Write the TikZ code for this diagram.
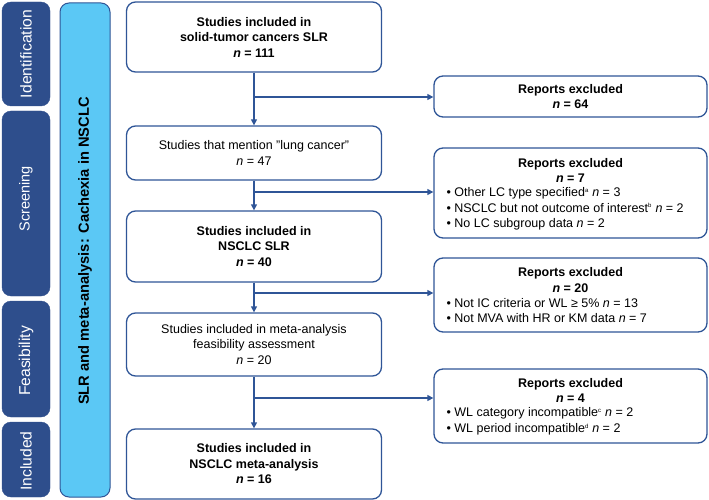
\documentclass[tikz,border=0pt]{standalone}
\usepackage{fontspec}
\setmainfont{Liberation Sans}
\usetikzlibrary{arrows.meta,positioning}
\definecolor{dkblue}{HTML}{2F5597}
\definecolor{phase}{HTML}{2E4E8C}
\definecolor{ltblue}{HTML}{5BC8F5}
\newcommand{\nn}{\textit{n}}
\newcommand{\sups}[1]{\textsuperscript{\fontsize{6}{6}\selectfont #1}}
\begin{document}
\begin{tikzpicture}[x=1pt,y=-1pt,
  every node/.style={font=\fontsize{12.5}{15.5}\selectfont},
  phasebox/.style={draw=phase,fill=phase,rounded corners=9pt,minimum width=48pt,inner sep=0pt},
  phaselabel/.style={rotate=90,text=white,font=\fontsize{15.7}{17}\selectfont},
  mainbox/.style={draw=dkblue,line width=1.3pt,rounded corners=9pt,minimum width=255pt,align=center,fill=white},
  exbox/.style={draw=dkblue,line width=1.3pt,rounded corners=9pt,minimum width=273pt,fill=white},
  conn/.style={draw=dkblue,line width=1.3pt},
  arr/.style={conn,-{Triangle[length=6pt,width=6pt]}}
]
\useasboundingbox (0,0) rectangle (709,500);
% phase boxes
\node[phasebox,minimum height=104pt] (id) at (26,54) {};
\node[phaselabel] (idl) at (id.center) {Identification};
\node[phasebox,minimum height=185pt] (sc) at (26,203.5) {};
\node[phaselabel,font=\fontsize{14.5}{16}\selectfont] (scl) at (26,199) {Screening};
\node[phasebox,minimum height=116pt] (fe) at (26,359) {};
\node[phaselabel] (fel) at (26,361) {Feasibility};
\node[phasebox,minimum height=75pt] (inc) at (26,459.5) {};
\node[phaselabel] (incl) at (26,461) {Included};
% cachexia bar
\node[draw=dkblue,fill=ltblue,line width=1pt,rounded corners=9pt,minimum width=50pt,minimum height=494pt] (bar) at (85,250) {};
\node[rotate=90,font=\fontsize{14.7}{17}\selectfont\bfseries] (barl) at (85,251) {SLR and meta-analysis: Cachexia in NSCLC};
% main boxes
\node[mainbox,minimum height=70pt] (b1) at (254,37) {\bfseries Studies included in\\ \bfseries solid-tumor cancers SLR\\ \bfseries\nn\ = 111};
\node[mainbox,minimum height=54pt] (b2) at (254,153) {Studies that mention \char34 lung cancer\char34\\ \nn\ = 47};
\node[mainbox,minimum height=71pt] (b3) at (254,246.5) {\bfseries Studies included in\\ \bfseries NSCLC SLR\\ \bfseries\nn\ = 40};
\node[mainbox,minimum height=63pt] (b4) at (254,344.5) {Studies included in meta-analysis\\ feasibility assessment\\ \nn\ = 20};
\node[mainbox,minimum height=70pt] (b5) at (254,464) {\bfseries Studies included in\\ \bfseries NSCLC meta-analysis\\ \bfseries\nn\ = 16};
% exclusion boxes
\node[exbox,minimum height=41pt,align=center] (r1) at (570.5,96.5) {\bfseries Reports excluded\\ \bfseries\nn\ = 64};
\node[exbox,minimum height=90pt] (r2) at (570.5,193) {};
\node[align=center] (r2h) at (570.5,170.5) {\bfseries Reports excluded\\ \bfseries\nn\ = 7};
\node[align=left,anchor=west] (r2b) at (443,209) {\textbullet\ Other LC type specified\sups{a} \nn\ = 3\\ \textbullet\ NSCLC but not outcome of interest\sups{b} \nn\ = 2\\ \textbullet\ No LC subgroup data \nn\ = 2};
\node[exbox,minimum height=74pt] (r3) at (570.5,295) {};
\node[align=center] (r3h) at (570.5,280) {\bfseries Reports excluded\\ \bfseries\nn\ = 20};
\node[align=left,anchor=west] (r3b) at (443,310.5) {\textbullet\ Not IC criteria or WL ≥ 5\% \nn\ = 13\\ \textbullet\ Not MVA with HR or KM data \nn\ = 7};
\node[exbox,minimum height=74pt] (r4) at (570.5,406) {};
\node[align=center] (r4h) at (570.5,390.5) {\bfseries Reports excluded\\ \bfseries\nn\ = 4};
\node[align=left,anchor=west] (r4b) at (443,421.5) {\textbullet\ WL category incompatible\sups{c} \nn\ = 2\\ \textbullet\ WL period incompatible\sups{d} \nn\ = 2};
% connectors
\coordinate (j1) at (254,97);
\coordinate (j2) at (254,192);
\coordinate (j3) at (254,293);
\coordinate (j4) at (254,398);
\draw[arr] (b1.south) -- (b2.north);
\draw[arr] (b2.south) -- (b3.north);
\draw[arr] (b3.south) -- (b4.north);
\draw[arr] (b4.south) -- (b5.north);
\draw[arr] (j1) -- (r1.west |- j1);
\draw[arr] (j2) -- (r2.west |- j2);
\draw[arr] (j3) -- (r3.west |- j3);
\draw[arr] (j4) -- (r4.west |- j4);
\end{tikzpicture}
\end{document}
